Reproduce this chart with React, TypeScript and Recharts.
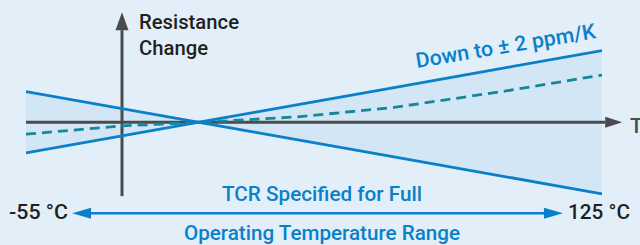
import { ComposedChart, Area, Line, XAxis, YAxis, ReferenceLine, ReferenceDot, Customized } from 'recharts'

// temperature (°C) and resistance change (ppm)
const TEMPS = [-55, -25, 0, 30, 60, 95, 125]
const LIMIT_FALLING = [108, 48, -2, -62, -122, -192, -252]
const LIMIT_RISING = [-108, -48, 2, 62, 122, 192, 252]
const TYPICAL = [-42, -13, 0, 19, 52, 110, 166]

const Y_AXIS_AT = -25
const AXIS_TOP = 324
const AXIS_BOTTOM = -260
const X_AXIS_END = 126
const RANGE_Y = -320
const RANGE_FROM = -40.6
const RANGE_TO = 112.8

const LABELS = {
  yTitle: ['Resistance', 'Change'],
  xTitle: 'T',
  low: '-55 °C',
  high: '125 °C',
  rangeTop: 'TCR Specified for Full',
  rangeBottom: 'Operating Temperature Range',
  slope: 'Down to ± 2 ppm/K',
}

const BG = '#e2eff9'
const BAND = '#d2e6f5'
const BLUE = '#0a80c9'
const TEAL = '#16879a'
const GREY = '#4b4b4d'
const INK = '#231f20'
const FONT = '"Liberation Sans Narrow", Roboto, "Liberation Sans", sans-serif'

const data = TEMPS.map((t, i) => ({
  t,
  falling: LIMIT_FALLING[i],
  rising: LIMIT_RISING[i],
  typical: TYPICAL[i],
  band: [Math.min(LIMIT_FALLING[i], LIMIT_RISING[i]), Math.max(LIMIT_FALLING[i], LIMIT_RISING[i])],
}))

const UpHead = ({ cx, cy }: any) => (
  <polygon points={`${cx - 6.5},${cy} ${cx + 6.5},${cy} ${cx},${cy - 18}`} fill={GREY} />
)
const RightHead = ({ cx, cy }: any) => (
  <polygon points={`${cx},${cy - 5.5} ${cx},${cy + 5.5} ${cx + 17},${cy}`} fill={GREY} />
)
const BlueLeft = ({ cx, cy }: any) => (
  <polygon points={`${cx},${cy} ${cx + 19},${cy - 5.5} ${cx + 19},${cy + 5.5}`} fill={BLUE} />
)
const BlueRight = ({ cx, cy }: any) => (
  <polygon points={`${cx},${cy} ${cx - 19},${cy - 5.5} ${cx - 19},${cy + 5.5}`} fill={BLUE} />
)

const Annotations = () => (
  <g fontFamily={FONT} fontSize={21} fontWeight={500}>
    <text x={139} y={29} fill={INK} textLength={100} lengthAdjust="spacingAndGlyphs">{LABELS.yTitle[0]}</text>
    <text x={139} y={55} fill={INK} textLength={69} lengthAdjust="spacingAndGlyphs">{LABELS.yTitle[1]}</text>
    <text x={630} y={133} fill={GREY}>{LABELS.xTitle}</text>
    <text x={9} y={219} fill={INK} textLength={59} lengthAdjust="spacingAndGlyphs">{LABELS.low}</text>
    <text x={568} y={219} fill={INK} textLength={62} lengthAdjust="spacingAndGlyphs">{LABELS.high}</text>
    <text x={222} y={201} fill={BLUE} textLength={200} lengthAdjust="spacingAndGlyphs">{LABELS.rangeTop}</text>
    <text x={184} y={240} fill={BLUE} textLength={276} lengthAdjust="spacingAndGlyphs">{LABELS.rangeBottom}</text>
    <text transform="translate(417,68) rotate(-9.5)" fill={BLUE} textLength={182} lengthAdjust="spacingAndGlyphs">{LABELS.slope}</text>
  </g>
)

export default function App() {
  return (
    <div style={{ position: 'absolute', left: 0, top: 0, width: 640, height: 245, background: BG }}>
      <ComposedChart width={640} height={245} data={data} margin={{ top: 0, right: 38, bottom: 0, left: 26 }}>
        <XAxis type="number" dataKey="t" domain={[-55, 125]} hide allowDataOverflow />
        <YAxis type="number" domain={[-432, 430]} hide allowDataOverflow />
        <Area dataKey="band" fill={BAND} fillOpacity={1} stroke="none" isAnimationActive={false} />
        <ReferenceLine
          segment={[{ x: -55, y: 0 }, { x: X_AXIS_END, y: 0 }]}
          stroke={GREY} strokeWidth={3} ifOverflow="visible"
        />
        <ReferenceLine
          segment={[{ x: Y_AXIS_AT, y: AXIS_BOTTOM }, { x: Y_AXIS_AT, y: AXIS_TOP }]}
          stroke={GREY} strokeWidth={3} ifOverflow="visible"
        />
        <ReferenceDot x={Y_AXIS_AT} y={AXIS_TOP} shape={UpHead} ifOverflow="visible" />
        <ReferenceDot x={X_AXIS_END} y={0} shape={RightHead} ifOverflow="visible" />
        <Line dataKey="typical" stroke={TEAL} strokeWidth={2.8} strokeDasharray="10 6" dot={false} isAnimationActive={false} />
        <Line dataKey="falling" stroke={BLUE} strokeWidth={2.8} dot={false} isAnimationActive={false} />
        <Line dataKey="rising" stroke={BLUE} strokeWidth={2.8} dot={false} isAnimationActive={false} />
        <ReferenceLine
          segment={[{ x: RANGE_FROM + 3, y: RANGE_Y }, { x: RANGE_TO - 3, y: RANGE_Y }]}
          stroke={BLUE} strokeWidth={2.5} ifOverflow="visible"
        />
        <ReferenceDot x={RANGE_FROM} y={RANGE_Y} shape={BlueLeft} ifOverflow="visible" />
        <ReferenceDot x={RANGE_TO} y={RANGE_Y} shape={BlueRight} ifOverflow="visible" />
        <Customized component={Annotations} />
      </ComposedChart>
    </div>
  )
}
